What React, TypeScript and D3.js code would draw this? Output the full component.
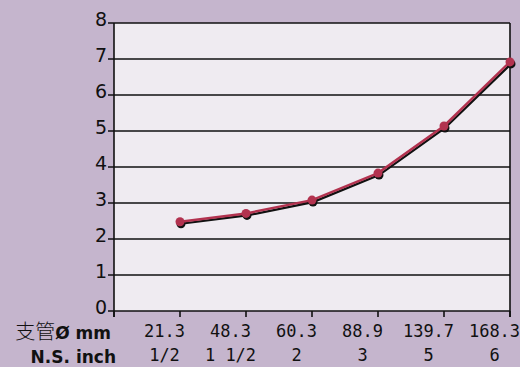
import React from "react";
import * as d3 from "d3";

const mmLabels = ["21.3", "48.3", "60.3", "88.9", "139.7", "168.3"];
const inchLabels = ["1/2", "1 1/2", "2", "3", "5", "6"];
const values = [2.48, 2.71, 3.08, 3.83, 5.14, 6.92];
const yTicks = [0, 1, 2, 3, 4, 5, 6, 7, 8];

const W = 520;
const H = 367;
const left = 114;
const right = 510;
const top = 23;
const bottom = 311;

export default function App() {
  const x = d3.scaleLinear().domain([0, 6]).range([left, right]);
  const y = d3.scaleLinear().domain([0, 8]).range([bottom, top]);
  const pts = values.map((v, i) => [x(i + 1), y(v)] as [number, number]);
  const line = d3.line();
  const red = "#b2324f";
  return (
    <svg width={W} height={H} style={{ position: "absolute", left: 0, top: 0 }}>
      <rect x={0} y={0} width={W} height={H} fill="#c5b5cd" />
      <rect x={left} y={top} width={right - left} height={bottom - top} fill="#efebf1" />
      {yTicks.map((t) => (
        <g key={t}>
          <line x1={left - 6} x2={right} y1={y(t)} y2={y(t)} stroke="#111" strokeWidth={1.6} />
          <text
            x={left - 7}
            y={y(t) + 3}
            textAnchor="end"
            fontFamily="DejaVu Sans"
            fontSize={19}
            fill="#111"
          >
            {t}
          </text>
        </g>
      ))}
      <line x1={left} x2={left} y1={top} y2={bottom + 6} stroke="#111" strokeWidth={1.6} />
      <line x1={right} x2={right} y1={top} y2={bottom + 6} stroke="#111" strokeWidth={1.6} />
      {d3.range(0, 7).map((i) => (
        <line key={i} x1={x(i)} x2={x(i)} y1={bottom} y2={bottom + 6} stroke="#111" strokeWidth={1.6} />
      ))}
      {mmLabels.map((m, i) => (
        <g key={m} fontFamily="DejaVu Sans Mono" fontSize={17} fill="#111" textAnchor="middle">
          <text x={x(i + 1) - 15.5} y={337}>{m}</text>
          <text x={x(i + 1) - 15.5} y={361}>{inchLabels[i]}</text>
        </g>
      ))}
      <text x={111} y={339} textAnchor="end" fill="#111">
        <tspan fontFamily="Noto Sans CJK SC" fontWeight={300} fontSize={20}>支管</tspan>
        <tspan fontFamily="DejaVu Sans" fontWeight="bold" fontSize={17}>Ø mm</tspan>
      </text>
      <text x={116} y={363} textAnchor="end" fontSize={17} fill="#111" fontFamily="DejaVu Sans" fontWeight="bold">
        N.S. inch
      </text>
      <g transform="translate(1,2)">
        <path d={line(pts) || ""} fill="none" stroke="#111" strokeWidth={2.2} />
        {pts.map((p, i) => (
          <circle key={i} cx={p[0]} cy={p[1]} r={4.5} fill="#111" />
        ))}
      </g>
      <path d={line(pts) || ""} fill="none" stroke={red} strokeWidth={2.5} />
      {pts.map((p, i) => (
        <circle key={i} cx={p[0]} cy={p[1]} r={4.5} fill={red} />
      ))}
    </svg>
  );
}
